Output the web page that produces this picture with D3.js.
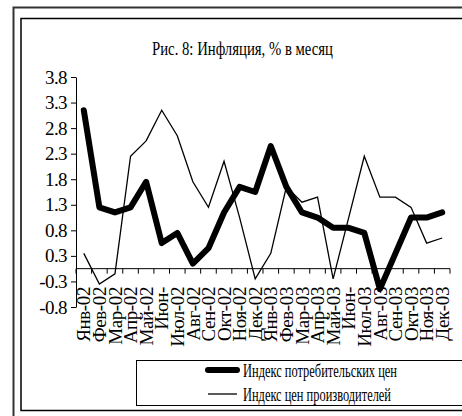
<!DOCTYPE html>
<html>
<head>
<meta charset="utf-8">
<script src="https://cdn.jsdelivr.net/npm/d3@7/dist/d3.min.js"></script>
<style>
  html, body { margin: 0; padding: 0; background: #fff; }
  svg { display: block; font-family: "Liberation Serif", "Times New Roman", serif; }
</style>
</head>
<body>
<svg id="chart" width="462" height="416"></svg>
<script>
// ---- data ----
const categories = ["Янв-02","Фев-02","Мар-02","Апр-02","Май-02","Июн-","Июл-02","Авг-02","Сен-02","Окт-02","Ноя-02","Дек-02",
                    "Янв-03","Фев-03","Мар-03","Апр-03","Май-03","Июн-","Июл-03","Авг-03","Сен-03","Окт-03","Ноя-03","Дек-03"];
const cpi = [3.1, 1.2, 1.1, 1.2, 1.7, 0.5, 0.7, 0.1, 0.4, 1.1, 1.6, 1.5,
             2.4, 1.6, 1.1, 1.0, 0.8, 0.8, 0.7, -0.4, 0.3, 1.0, 1.0, 1.1];
const ppi = [0.3, -0.3, -0.1, 2.2, 2.5, 3.1, 2.6, 1.7, 1.2, 2.1, 1.0, -0.2,
             0.3, 1.6, 1.3, 1.4, -0.2, 1.0, 2.2, 1.4, 1.4, 1.2, 0.5, 0.6];
const yTickValues = [-0.75, -0.25, 0.25, 0.75, 1.25, 1.75, 2.25, 2.75, 3.25, 3.75];
const yTickLabels = ["-0.8", "-0.3", "0.3", "0.8", "1.3", "1.8", "2.3", "2.8", "3.3", "3.8"];
const titleText = "Рис. 8:  Инфляция, % в месяц";
const seriesNames = ["Индекс потребительских цен", "Индекс цен производителей"];

// ---- drawing ----
const svg = d3.select("#chart");

// frames
svg.append("rect").attr("x", 13.5).attr("y", 7.5).attr("width", 470).attr("height", 420)
  .attr("fill", "none").attr("stroke", "#333").attr("stroke-width", 2);
svg.append("rect").attr("x", 21).attr("y", 18.5).attr("width", 460).attr("height", 392)
  .attr("fill", "none").attr("stroke", "#000").attr("stroke-width", 1.5);

// title
svg.append("text").attr("x", 152).attr("y", 55)
  .attr("textLength", 181).attr("lengthAdjust", "spacingAndGlyphs")
  .style("font-size", "19px").text(titleText);

const idx = d3.range(categories.length);
const x = d3.scaleBand().domain(idx).range([76, 450]).padding(0);
const cx = i => x(i) + x.bandwidth() / 2;
const y = d3.scaleLinear().domain([-0.75, 3.75]).range([307, 77]);

// y axis
const yAxis = d3.axisLeft(y).tickValues(yTickValues)
  .tickFormat((d, i) => yTickLabels[i]).tickSize(5).tickSizeOuter(0).tickPadding(4);
const gy = svg.append("g").attr("transform", "translate(76,0)").call(yAxis);
gy.select(".domain").attr("stroke", "#000").attr("stroke-width", 1);
gy.selectAll(".tick line").attr("stroke", "#000");
gy.selectAll(".tick text").attr("fill", "#000").style("font-size", "19px")
  .style("font-family", "'Liberation Serif', 'Times New Roman', serif")
  .style("letter-spacing", "-0.6px");

// x axis at y=0
const y0 = y(0);
svg.append("line").attr("x1", x.range()[0]).attr("x2", x.range()[1])
  .attr("y1", y0).attr("y2", y0).attr("stroke", "#000").attr("stroke-width", 1);
const bounds = idx.map(i => x(i)).concat([x.range()[1]]);
svg.append("g").selectAll("line").data(bounds).join("line")
  .attr("x1", d => d).attr("x2", d => d).attr("y1", y0).attr("y2", y0 + 5)
  .attr("stroke", "#000").attr("stroke-width", 1);

// x labels (rotated)
svg.append("g").selectAll("text").data(idx).join("text")
  .attr("transform", i => `translate(${cx(i)},287) rotate(-90)`)
  .attr("text-anchor", "end").attr("dy", "0.35em")
  .style("font-size", "19px").style("letter-spacing", "-0.4px")
  .text(i => categories[i]);

// lines
const line = d3.line().x((d, i) => cx(i)).y(d => y(d));
svg.append("path").datum(ppi).attr("d", line)
  .attr("fill", "none").attr("stroke", "#000").attr("stroke-width", 1.3)
  .attr("stroke-linejoin", "miter");
svg.append("path").datum(cpi).attr("d", line)
  .attr("fill", "none").attr("stroke", "#000").attr("stroke-width", 6)
  .attr("stroke-linejoin", "round").attr("stroke-linecap", "round");

// legend
svg.append("rect").attr("x", 136.5).attr("y", 360.5).attr("width", 360).attr("height", 45)
  .attr("fill", "#fff").attr("stroke", "#000").attr("stroke-width", 1);
const legendWidths = [154, 148];
const legendStroke = [6, 1.3];
seriesNames.forEach((name, i) => {
  const ly = 370 + i * 24;
  svg.append("line").attr("x1", 208).attr("x2", 237).attr("y1", ly).attr("y2", ly)
    .attr("stroke", "#000").attr("stroke-width", legendStroke[i])
    .attr("stroke-linecap", i === 0 ? "round" : "butt");
  svg.append("text").attr("x", 243).attr("y", ly + 7)
    .attr("textLength", legendWidths[i]).attr("lengthAdjust", "spacingAndGlyphs")
    .style("font-size", "18px").text(name);
});
</script>
</body>
</html>
